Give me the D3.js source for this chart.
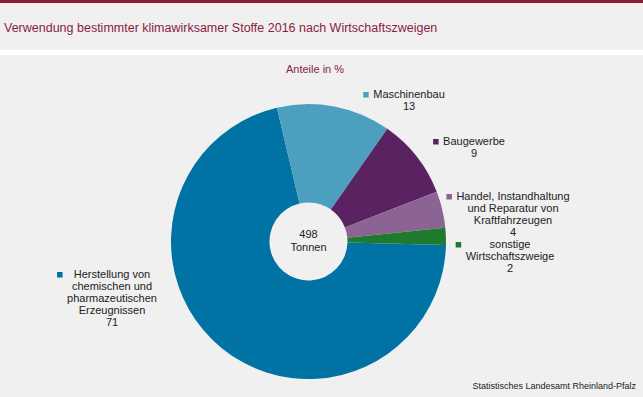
<!DOCTYPE html>
<html>
<head>
<meta charset="utf-8">
<script src="https://cdn.jsdelivr.net/npm/d3@7"></script>
<style>
  body { margin: 0; background: #eff0ef; }
  svg { display: block; font-family: "Liberation Sans", Arial, sans-serif; }
</style>
</head>
<body>
<div id="chart"></div>
<script>
'use strict';

// data
var categories = [
  ['Herstellung von', 'chemischen und', 'pharmazeutischen', 'Erzeugnissen'],
  ['Maschinenbau'],
  ['Baugewerbe'],
  ['Handel, Instandhaltung', 'und Reparatur von', 'Kraftfahrzeugen'],
  ['sonstige', 'Wirtschaftszweige']
];
var shares = [70.9, 13.4, 9.4, 4.3, 2.0];   // Anteile in %
var totalTonnes = 498;

var colors = ['#0072a3', '#4d9fc0', '#5b2262', '#8b6494', '#1e7a2e'];
// label anchors (centre of text block, first baseline)
var labelPos = [[112, 278], [409, 98], [474, 145], [513, 200], [510, 248]];

var width = 643, height = 397;
var cx = 308.5, cy = 241.5, rOuter = 137.5, rInner = 39;

var svg = d3.select('#chart').append('svg')
  .attr('width', width)
  .attr('height', height);

svg.append('rect').attr('width', width).attr('height', height).attr('fill', '#eff0ef');
svg.append('rect').attr('width', width).attr('height', 3).attr('fill', '#8b1c36');
svg.append('rect').attr('y', 50).attr('width', width).attr('height', 5).attr('fill', '#ffffff');

svg.append('text')
  .attr('x', 4).attr('y', 32)
  .attr('font-size', 12.5)
  .attr('fill', '#8b1c42')
  .text('Verwendung bestimmter klimawirksamer Stoffe 2016 nach Wirtschaftszweigen');

svg.append('text')
  .attr('x', 315).attr('y', 73)
  .attr('text-anchor', 'middle')
  .attr('font-size', 11)
  .attr('fill', '#8b1c42')
  .text('Anteile in %');

var pie = d3.pie().sort(null)
  .startAngle(91.5 * Math.PI / 180)
  .endAngle(451.5 * Math.PI / 180);
var arc = d3.arc().innerRadius(rInner).outerRadius(rOuter);

var g = svg.append('g').attr('transform', 'translate(' + cx + ',' + cy + ')');
g.selectAll('path')
  .data(pie(shares))
  .enter()
  .append('path')
    .attr('d', arc)
    .attr('fill', function(d, i) { return colors[i]; });

g.append('text').attr('y', -4).attr('text-anchor', 'middle').attr('font-size', 11).attr('fill', '#222')
  .text(totalTonnes);
g.append('text').attr('y', 9).attr('text-anchor', 'middle').attr('font-size', 11).attr('fill', '#222')
  .text('Tonnen');

// labels
var fmt = d3.format('.0f');
var labels = svg.selectAll('g.label')
  .data(categories)
  .enter()
  .append('g')
    .attr('class', 'label')
    .attr('transform', function(d, i) { return 'translate(' + labelPos[i][0] + ',' + labelPos[i][1] + ')'; });

labels.each(function(lines, i) {
  var lg = d3.select(this);
  var allLines = lines.concat([fmt(shares[i])]);
  var t = lg.append('text')
    .attr('text-anchor', 'middle')
    .attr('font-size', 11)
    .attr('fill', '#222');
  var spans = t.selectAll('tspan')
    .data(allLines)
    .enter()
    .append('tspan')
      .attr('x', 0)
      .attr('y', function(d, j) { return j * 12.1; })
      .text(function(d) { return d; });
  var w = d3.max(spans.nodes(), function(n) { return n.getComputedTextLength(); });
  lg.append('rect')
    .attr('x', -w / 2 - 10).attr('y', -6)
    .attr('width', 5.5).attr('height', 5.5)
    .attr('fill', colors[i]);
});

svg.append('text')
  .attr('x', 636).attr('y', 389)
  .attr('text-anchor', 'end')
  .attr('font-size', 9)
  .attr('fill', '#222')
  .text('Statistisches Landesamt Rheinland-Pfalz');
</script>
</body>
</html>
